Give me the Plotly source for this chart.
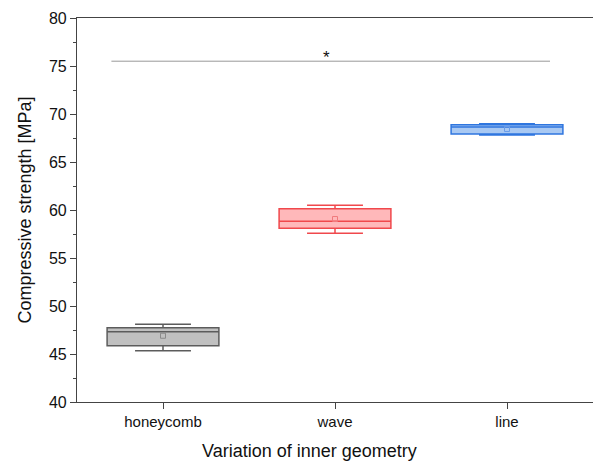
import plotly.graph_objects as go

categories = ["honeycomb", "wave", "line"]
positions = [0, 1, 2]
lower = [45.35, 57.57, 67.81]
q1 = [45.86, 58.09, 67.92]
median = [47.32, 58.82, 68.65]
q3 = [47.74, 60.14, 68.89]
upper = [48.10, 60.49, 68.99]
means = [46.90, 59.06, 68.44]

fills = ["#c0c0c0", "#ffb8ba", "#a9c9f3"]
lines = ["#5c5c5c", "#f0484c", "#2f76df"]
mean_colors = ["#8a8a8a", "#f07a7d", "#6a9ce8"]

sig_x = [-0.3, 2.25]
sig_y = 75.5
sig_label = "*"

fig = go.Figure()
for i in range(len(categories)):
    fig.add_trace(go.Box(
        x=[positions[i]], q1=[q1[i]], median=[median[i]], q3=[q3[i]],
        lowerfence=[lower[i]], upperfence=[upper[i]],
        width=0.65, whiskerwidth=0.5,
        fillcolor=fills[i], line=dict(color=lines[i], width=1.5),
        boxpoints=False, showlegend=False, hoverinfo="skip",
    ))
    fig.add_trace(go.Scatter(
        x=[positions[i]], y=[means[i]], mode="markers",
        marker=dict(symbol="square-open", size=5, color=mean_colors[i], line=dict(width=1)),
        showlegend=False, hoverinfo="skip",
    ))

fig.add_trace(go.Scatter(
    x=sig_x, y=[sig_y, sig_y], mode="lines",
    line=dict(color="#999999", width=1), showlegend=False, hoverinfo="skip",
))
fig.add_annotation(x=0.95, y=sig_y, text=sig_label, showarrow=False,
                   yanchor="middle", yshift=4, font=dict(size=17, color="#111111"))

font_family = "Liberation Sans, Arial, sans-serif"
fig.add_annotation(
    xref="paper", yref="paper", x=(309 - 77) / (593 - 77), y=-(451 - 402) / (402 - 18),
    text="Variation of inner geometry", showarrow=False, xanchor="center", yanchor="middle",
    font=dict(size=18, color="#111111"),
)
fig.update_layout(
    width=593, height=463,
    margin=dict(l=77, r=0, t=18, b=61),
    paper_bgcolor="white", plot_bgcolor="white",
    font=dict(family=font_family, color="#111111"),
    xaxis=dict(
        range=[-0.5, 2.5], tickvals=positions, ticktext=categories,
        showgrid=False, zeroline=False,
        showline=True, linecolor="#444444", linewidth=1.2, mirror=True,
        ticks="outside", ticklen=6, tickcolor="#444444",
        tickfont=dict(size=15, color="#111111"),
    ),
    yaxis=dict(
        range=[40, 80], dtick=5, showgrid=False, zeroline=False,
        showline=True, linecolor="#444444", linewidth=1.2,
        ticks="outside", ticklen=6, tickcolor="#444444",
        minor=dict(dtick=2.5, ticks="outside", ticklen=3, tickcolor="#444444"),
        tickfont=dict(size=16, color="#111111"),
        title=dict(text="Compressive strength [MPa]", font=dict(size=18, color="#111111"), standoff=12),
    ),
)

fig.write_html("out.html")
